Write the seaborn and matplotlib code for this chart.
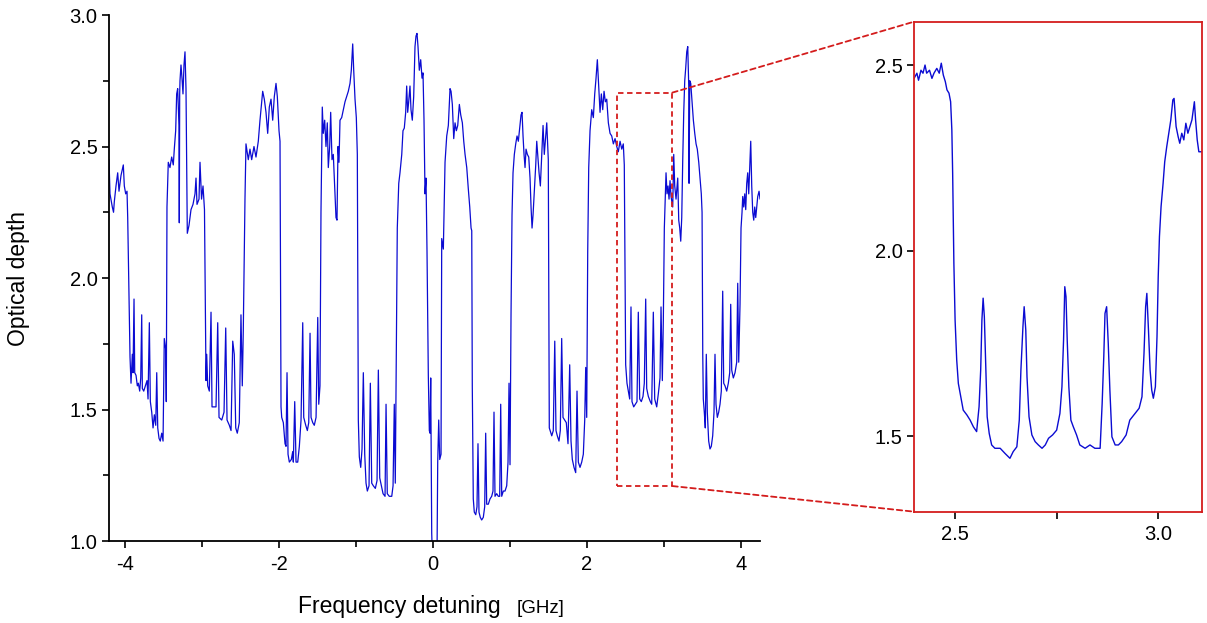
import matplotlib.pyplot as plt
from matplotlib.patches import Rectangle, ConnectionPatch
from matplotlib.ticker import MultipleLocator, FixedLocator, FormatStrFormatter
import pandas as pd
import seaborn as sns

# full spectrum, values (GHz, optical depth)
freq = [
    -4.208, -4.195, -4.165, -4.149, -4.139, -4.117, -4.095, -4.078, -4.052, -4.022, -4.009, -3.991, -3.974, -3.965, -3.935,
    -3.922, -3.905, -3.896, -3.883, -3.874, -3.857, -3.840, -3.827, -3.809, -3.796, -3.783, -3.775, -3.757, -3.736, -3.714,
    -3.701, -3.684, -3.671, -3.653, -3.636, -3.619, -3.601, -3.588, -3.575, -3.558, -3.542, -3.523, -3.506, -3.490, -3.472,
    -3.464, -3.455, -3.438,
    -3.416, -3.394, -3.373, -3.360, -3.342, -3.329, -3.316, -3.299, -3.295, -3.290, -3.286, -3.273, -3.260, -3.247, -3.234,
    -3.221, -3.208, -3.191, -3.169, -3.143, -3.117, -3.091, -3.078, -3.065, -3.039, -3.026, -3.006, -2.987, -2.968, -2.948,
    -2.939, -2.926, -2.905, -2.883, -2.870, -2.844, -2.818, -2.796, -2.779, -2.744, -2.714, -2.692, -2.675, -2.645, -2.623,
    -2.601, -2.581, -2.562, -2.542, -2.516, -2.494, -2.477, -2.464, -2.442, -2.429,
    -2.399, -2.377, -2.355, -2.325, -2.299, -2.269, -2.247, -2.212, -2.191, -2.169, -2.147, -2.126, -2.104, -2.082, -2.061,
    -2.039, -2.022, -2.000, -1.987, -1.974,
    -1.965, -1.944, -1.922, -1.909, -1.896, -1.883, -1.866, -1.840, -1.822, -1.814, -1.796, -1.779, -1.757, -1.736, -1.714,
    -1.692, -1.679, -1.653, -1.632, -1.614, -1.597, -1.584, -1.562, -1.542, -1.519, -1.497, -1.484, -1.468, -1.455, -1.438,
    -1.425, -1.407, -1.390, -1.373, -1.360, -1.342, -1.329, -1.312, -1.295, -1.277, -1.260, -1.247, -1.234, -1.221, -1.208,
    -1.186, -1.165, -1.143, -1.121, -1.100, -1.078, -1.061, -1.043, -1.030, -1.013, -0.996, -0.983, -0.970,
    -0.957, -0.939, -0.922, -0.905, -0.887, -0.870, -0.853, -0.831, -0.814, -0.796, -0.775, -0.749, -0.727, -0.710, -0.692,
    -0.671, -0.649, -0.623, -0.610, -0.594, -0.568, -0.536, -0.519, -0.503, -0.490, -0.477, -0.464, -0.445,
    -0.429, -0.406, -0.390, -0.373, -0.355, -0.342, -0.329, -0.316, -0.299, -0.286, -0.269, -0.251, -0.234, -0.221, -0.208,
    -0.195, -0.178, -0.160, -0.143, -0.130, -0.117, -0.104, -0.091, -0.078, -0.061, -0.048, -0.039, -0.030, -0.017, -0.009,
    0.052, 0.061, 0.074, 0.087, 0.104, 0.113, 0.134, 0.156, 0.178, 0.199, 0.221, 0.234, 0.251, 0.269, 0.286,
    0.303, 0.321, 0.342, 0.360, 0.381, 0.399, 0.416, 0.438, 0.458, 0.477, 0.494, 0.503, 0.510,
    0.523, 0.536, 0.555, 0.571, 0.584, 0.597, 0.614, 0.632, 0.653, 0.671, 0.684, 0.697, 0.718, 0.740, 0.762,
    0.779, 0.792, 0.805, 0.827, 0.848, 0.866, 0.879, 0.892, 0.913, 0.935, 0.957, 0.974, 0.987, 1.000, 1.013,
    1.026, 1.039,
    1.056, 1.074, 1.091, 1.108, 1.126, 1.143, 1.156, 1.169, 1.182, 1.195, 1.208, 1.225, 1.243, 1.260, 1.273,
    1.286, 1.299, 1.316, 1.334, 1.347, 1.360, 1.377, 1.394, 1.412, 1.429, 1.445, 1.477, 1.497, 1.510,
    1.542, 1.562, 1.581, 1.597, 1.614, 1.636, 1.653, 1.671, 1.688, 1.710, 1.731, 1.753, 1.775, 1.792, 1.809,
    1.831, 1.853, 1.870, 1.887, 1.909, 1.931, 1.952, 1.970, 1.983, 1.996, 2.009, 2.022,
    2.039, 2.061, 2.082, 2.100, 2.117, 2.134, 2.152, 2.169, 2.186, 2.204, 2.221, 2.238, 2.256, 2.277, 2.299,
    2.321, 2.342, 2.364, 2.386, 2.406, 2.429, 2.451, 2.471, 2.484, 2.502,
    2.519, 2.536, 2.554, 2.571, 2.584, 2.606, 2.627, 2.649, 2.666, 2.684, 2.705, 2.727, 2.744, 2.762, 2.775,
    2.796, 2.822, 2.840, 2.861, 2.879, 2.905, 2.926, 2.948, 2.961, 2.978, 2.991, 3.004, 3.017,
    3.026, 3.039, 3.052, 3.065, 3.078, 3.091, 3.113, 3.126, 3.139, 3.156, 3.178, 3.191, 3.204, 3.217, 3.230,
    3.243, 3.256, 3.269, 3.282, 3.295, 3.308, 3.321, 3.325, 3.334, 3.347, 3.364, 3.381, 3.399, 3.416, 3.432,
    3.451, 3.468, 3.484, 3.494, 3.503,
    3.510, 3.523, 3.536, 3.549, 3.562, 3.580, 3.597, 3.614, 3.632, 3.649, 3.662, 3.675, 3.692, 3.710, 3.727,
    3.744, 3.762, 3.775, 3.792, 3.814, 3.835, 3.853, 3.866, 3.879, 3.900, 3.922, 3.944, 3.957, 3.970, 3.987,
    4.000, 4.013,
    4.022, 4.035, 4.048, 4.061, 4.074, 4.087, 4.100, 4.113, 4.126, 4.139, 4.152, 4.165, 4.178, 4.191, 4.204,
    4.217, 4.234, 4.247,
]
od = [
    2.45, 2.32, 2.27, 2.25, 2.29, 2.35, 2.40, 2.33, 2.39, 2.43, 2.35, 2.32, 2.33, 2.23, 1.70,
    1.60, 1.71, 1.64, 1.92, 1.64, 1.63, 1.59, 1.60, 1.57, 1.62, 1.86, 1.58, 1.57, 1.59, 1.61,
    1.54, 1.83, 1.53, 1.49, 1.43, 1.48, 1.44, 1.64, 1.43, 1.39, 1.38, 1.41, 1.38, 1.77, 1.73,
    1.53, 2.27, 2.44,
    2.42, 2.46, 2.43, 2.49, 2.56, 2.70, 2.72, 2.58, 2.21, 2.70, 2.75, 2.81, 2.76, 2.70, 2.81,
    2.86, 2.72, 2.17, 2.20, 2.26, 2.28, 2.32, 2.38, 2.28, 2.30, 2.44, 2.30, 2.35, 2.26, 1.61,
    1.71, 1.59, 1.57, 1.87, 1.51, 1.51, 1.51, 1.83, 1.47, 1.46, 1.49, 1.81, 1.46, 1.44, 1.42,
    1.76, 1.71, 1.43, 1.41, 1.45, 1.86, 1.59, 1.80, 2.30, 2.51,
    2.45, 2.49, 2.45, 2.50, 2.46, 2.52, 2.60, 2.71, 2.68, 2.63, 2.55, 2.65, 2.68, 2.60, 2.69,
    2.74, 2.69, 2.56, 2.52, 1.51,
    1.47, 1.45, 1.37, 1.36, 1.64, 1.33, 1.30, 1.31, 1.34, 1.30, 1.53, 1.30, 1.30, 1.36, 1.46,
    1.83, 1.47, 1.44, 1.42, 1.45, 1.79, 1.47, 1.45, 1.44, 1.47, 1.85, 1.52, 1.59, 2.25, 2.65,
    2.55, 2.60, 2.50, 2.59, 2.42, 2.50, 2.63, 2.45, 2.47, 2.35, 2.23, 2.22, 2.50, 2.44, 2.60,
    2.61, 2.64, 2.67, 2.69, 2.71, 2.74, 2.79, 2.89, 2.79, 2.68, 2.61, 2.47, 1.46,
    1.32, 1.28, 1.35, 1.64, 1.33, 1.22, 1.19, 1.21, 1.60, 1.22, 1.21, 1.20, 1.23, 1.65, 1.24,
    1.21, 1.18, 1.17, 1.52, 1.18, 1.17, 1.17, 1.21, 1.52, 1.22, 1.71, 2.19, 2.36,
    2.40, 2.47, 2.56, 2.57, 2.63, 2.73, 2.63, 2.67, 2.73, 2.64, 2.60, 2.69, 2.88, 2.92, 2.93,
    2.88, 2.79, 2.83, 2.76, 2.78, 2.60, 2.32, 2.38, 2.10, 1.63, 1.42, 1.41, 1.62, 1.03, 0.95,
    0.95, 1.30, 1.46, 1.31, 1.33, 2.15, 2.11, 2.44, 2.54, 2.58, 2.72, 2.71, 2.66, 2.53, 2.59,
    2.56, 2.58, 2.66, 2.62, 2.59, 2.52, 2.47, 2.42, 2.34, 2.27, 2.19, 2.18, 1.59,
    1.16, 1.11, 1.10, 1.13, 1.37, 1.11, 1.09, 1.08, 1.09, 1.13, 1.41, 1.14, 1.14, 1.16, 1.17,
    1.19, 1.49, 1.17, 1.18, 1.17, 1.17, 1.52, 1.17, 1.19, 1.19, 1.21, 1.30, 1.60, 1.29, 1.86,
    2.24, 2.40,
    2.47, 2.51, 2.54, 2.52, 2.57, 2.62, 2.63, 2.54, 2.47, 2.42, 2.49, 2.47, 2.46, 2.38, 2.27,
    2.19, 2.24, 2.33, 2.43, 2.52, 2.47, 2.40, 2.35, 2.47, 2.58, 2.47, 2.59, 2.45, 1.43,
    1.40, 1.42, 1.76, 1.42, 1.40, 1.38, 1.42, 1.77, 1.47, 1.46, 1.45, 1.37, 1.67, 1.38, 1.31,
    1.28, 1.26, 1.57, 1.30, 1.28, 1.30, 1.33, 1.46, 1.66, 1.47, 2.10, 2.42,
    2.56, 2.64, 2.61, 2.70, 2.76, 2.83, 2.73, 2.63, 2.70, 2.64, 2.71, 2.67, 2.68, 2.59, 2.55,
    2.54, 2.51, 2.53, 2.50, 2.48, 2.52, 2.49, 2.51, 2.43, 1.67,
    1.60, 1.57, 1.54, 1.89, 1.53, 1.51, 1.52, 1.53, 1.87, 1.54, 1.53, 1.55, 1.60, 1.92, 1.58,
    1.55, 1.53, 1.52, 1.87, 1.54, 1.51, 1.56, 1.62, 1.89, 1.61, 1.84, 2.19, 2.32,
    2.40, 2.32, 2.35, 2.30, 2.37, 2.31, 2.27, 2.47, 2.35, 2.30, 2.38, 2.22, 2.19, 2.14, 2.23,
    2.45, 2.63, 2.75, 2.80, 2.86, 2.88, 2.73, 2.36, 2.75, 2.74, 2.67, 2.60, 2.55, 2.51, 2.49,
    2.44, 2.38, 2.32, 2.25, 1.71,
    1.54, 1.49, 1.43, 1.71, 1.49, 1.38, 1.35, 1.36, 1.40, 1.49, 1.71, 1.52, 1.47, 1.49, 1.52,
    1.57, 1.95, 1.60, 1.59, 1.57, 1.60, 1.64, 1.90, 1.65, 1.62, 1.64, 1.68, 1.98, 1.68, 1.90,
    2.19, 2.25,
    2.31, 2.27, 2.32, 2.26, 2.36, 2.40, 2.32, 2.42, 2.52, 2.35, 2.25, 2.22, 2.27, 2.23, 2.27,
    2.31, 2.33, 2.30,
]

# zoomed window
zoom_freq = [
    2.399, 2.406, 2.410, 2.416, 2.421, 2.426, 2.430, 2.437, 2.443, 2.448,
    2.455, 2.461, 2.466, 2.471, 2.476, 2.480, 2.485, 2.489, 2.492, 2.494,
    2.497, 2.500, 2.504, 2.508, 2.514, 2.520, 2.529, 2.537, 2.545, 2.553,
    2.559, 2.563, 2.566, 2.569, 2.572, 2.576, 2.579, 2.584, 2.590, 2.598,
    2.611, 2.623, 2.635, 2.643, 2.652, 2.658, 2.662, 2.667, 2.670, 2.674,
    2.677, 2.682, 2.689, 2.697, 2.705, 2.714, 2.722, 2.730, 2.740, 2.750,
    2.758, 2.763, 2.767, 2.770, 2.773, 2.776, 2.780, 2.785, 2.791, 2.799,
    2.807, 2.820, 2.832, 2.844, 2.857, 2.862, 2.866, 2.869, 2.873, 2.877,
    2.881, 2.886, 2.894, 2.902, 2.910, 2.921, 2.930, 2.943, 2.953, 2.960,
    2.965, 2.969, 2.972, 2.976, 2.980, 2.984, 2.988, 2.993, 2.997, 3.000,
    3.003, 3.007, 3.012, 3.016, 3.021, 3.026, 3.031, 3.036, 3.039, 3.044,
    3.049, 3.053, 3.058, 3.063, 3.068, 3.073, 3.078, 3.083, 3.089, 3.092,
    3.096, 3.100, 3.107,
]
zoom_od = [
    2.465, 2.479, 2.460, 2.487, 2.479, 2.501, 2.479, 2.487, 2.465, 2.479,
    2.492, 2.479, 2.506, 2.474, 2.456, 2.434, 2.425, 2.402, 2.326, 2.209,
    1.966, 1.813, 1.705, 1.642, 1.606, 1.570, 1.557, 1.543, 1.525, 1.512,
    1.579, 1.678, 1.813, 1.872, 1.822, 1.669, 1.552, 1.507, 1.476, 1.467,
    1.467, 1.453, 1.440, 1.458, 1.471, 1.543, 1.678, 1.795, 1.849, 1.786,
    1.660, 1.552, 1.503, 1.485, 1.476, 1.467, 1.476, 1.494, 1.503, 1.516,
    1.561, 1.633, 1.759, 1.903, 1.876, 1.759, 1.633, 1.543, 1.525, 1.503,
    1.476, 1.467, 1.476, 1.467, 1.467, 1.588, 1.714, 1.831, 1.849, 1.750,
    1.624, 1.498, 1.476, 1.476, 1.485, 1.503, 1.543, 1.561, 1.575, 1.606,
    1.723, 1.849, 1.885, 1.786, 1.678, 1.624, 1.602, 1.633, 1.768, 1.930,
    2.038, 2.119, 2.182, 2.240, 2.281, 2.317, 2.353, 2.407, 2.411, 2.335,
    2.308, 2.290, 2.317, 2.299, 2.344, 2.317, 2.335, 2.353, 2.402, 2.353,
    2.299, 2.267, 2.267,
]

# dashed box marking the zoomed window on the main plot
box_freq = (2.386, 3.108)
box_od = (1.209, 2.705)

assert len(freq) == len(od)
assert len(zoom_freq) == len(zoom_od)

sns.set_theme(style="ticks")
plt.rcParams["font.family"] = ["Liberation Sans", "DejaVu Sans"]
plt.rcParams["axes.unicode_minus"] = False

blue = "#0b0bd2"
red = "#d41c1c"

fig = plt.figure(figsize=(12.07, 6.23), dpi=100)
ax = fig.add_axes([0.0903, 0.1316, 0.5394, 0.8443])
axz = fig.add_axes([0.7573, 0.1787, 0.2383, 0.7865])

df = pd.DataFrame({"freq": freq, "od": od})
sns.lineplot(data=df, x="freq", y="od", ax=ax, color=blue, lw=0.9,
             sort=False, estimator=None)

dz = pd.DataFrame({"freq": zoom_freq, "od": zoom_od})
sns.lineplot(data=dz, x="freq", y="od", ax=axz, color=blue, lw=1.0,
             sort=False, estimator=None)

# main axes
ax.set_xlim(-4.208, 4.247)
ax.set_ylim(1.0, 3.0)
ax.xaxis.set_major_locator(MultipleLocator(2))
ax.xaxis.set_minor_locator(MultipleLocator(1))
ax.yaxis.set_major_locator(MultipleLocator(0.5))
ax.yaxis.set_minor_locator(MultipleLocator(0.25))
ax.yaxis.set_major_formatter(FormatStrFormatter("%.1f"))
sns.despine(ax=ax)
for s in ["left", "bottom"]:
    ax.spines[s].set_color("black")
    ax.spines[s].set_linewidth(1.3)
ax.tick_params(which="both", direction="out", color="black", width=1.2,
               labelsize=14.5, labelcolor="black")
ax.tick_params(which="major", length=4.8)
ax.tick_params(which="minor", length=4.3)
ax.tick_params(axis="x", which="major", pad=5)
ax.tick_params(axis="y", which="major", pad=3.5)

ax.set_xlabel("")
ax.set_ylabel("Optical depth", fontsize=16.5, color="black")
ax.yaxis.set_label_coords(-0.122, 0.5)
ax.text(0.601, -0.137, "Frequency detuning", transform=ax.transAxes,
        ha="right", va="baseline", fontsize=16.5, color="black")
ax.text(0.626, -0.137, "[GHz]", transform=ax.transAxes,
        ha="left", va="baseline", fontsize=13.5, color="black")

box = Rectangle((box_freq[0], box_od[0]), box_freq[1] - box_freq[0],
                box_od[1] - box_od[0], fill=False, ec=red, lw=1.3,
                ls=(0, (3, 2)), zorder=5)
ax.add_patch(box)

# inset axes
axz.set_xlim(2.399, 3.107)
axz.set_ylim(1.296, 2.618)
axz.xaxis.set_major_locator(FixedLocator([2.5, 3.0]))
axz.xaxis.set_minor_locator(FixedLocator([2.75]))
axz.yaxis.set_major_locator(FixedLocator([1.5, 2.0, 2.5]))
axz.xaxis.set_major_formatter(FormatStrFormatter("%.1f"))
axz.yaxis.set_major_formatter(FormatStrFormatter("%.1f"))
for s in axz.spines.values():
    s.set_color(red)
    s.set_linewidth(1.3)
axz.tick_params(which="both", direction="out", color="black", width=1.2,
                labelsize=14.5, labelcolor="black", length=4.8)
axz.tick_params(axis="x", pad=5)
axz.tick_params(axis="y", pad=3.5)
axz.set_xlabel("")
axz.set_ylabel("")

# dashed connectors from the box to the inset
for yb, ya in [(box_od[1], 1), (box_od[0], 0)]:
    con = ConnectionPatch(xyA=(box_freq[1], yb), coordsA=ax.transData,
                          xyB=(0, ya), coordsB=axz.transAxes,
                          color=red, lw=1.3, ls=(0, (3, 2)))
    fig.add_artist(con)

fig.savefig("out.png", dpi=100)
